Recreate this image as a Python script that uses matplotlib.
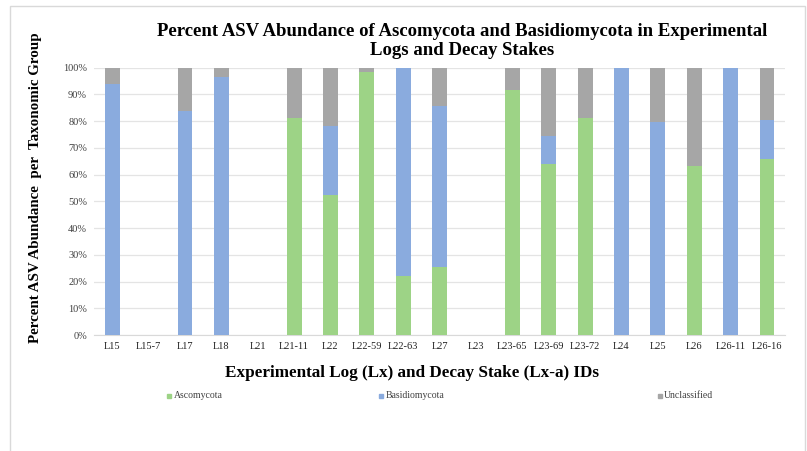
import matplotlib
matplotlib.use("Agg")
import matplotlib.pyplot as plt
import numpy as np
from matplotlib.patches import Rectangle, Patch

# Danh sách mẫu (log và decay stake)
samples = ["L15", "L15-7", "L17", "L18", "L21", "L21-11", "L22", "L22-59", "L22-63",
           "L27", "L23", "L23-65", "L23-69", "L23-72", "L24", "L25", "L26", "L26-11", "L26-16"]

# Phần trăm mỗi nhóm
ascomycota = [0, 0, 0, 0, 0, 81, 52.3, 98.4, 22.2, 25.3, 0, 91.5, 64.1, 81, 0, 0, 63.3, 0, 65.8]
basidiomycota = [93.8, 0, 83.8, 96.5, 0, 0, 25.8, 0, 77.8, 60.4, 0, 0, 10.2, 0, 100, 79.7, 0, 100, 14.8]
unclassified = [6.2, 0, 16.2, 3.5, 0, 19, 21.9, 1.6, 0, 14.3, 0, 8.5, 25.7, 19, 0, 20.3, 36.7, 0, 19.4]

c_green = "#9DD386"
c_blue = "#8AABDE"
c_gray = "#A6A6A6"

plt.rcParams['font.family'] = ['Liberation Serif', 'DejaVu Serif']

fig = plt.figure(figsize=(8.07, 4.51), dpi=100)
ax = fig.add_axes([0.1165, 0.257, 0.8565, 0.593])

x = np.arange(len(samples))
asc = np.array(ascomycota)
bas = np.array(basidiomycota)
unc = np.array(unclassified)
w = 0.41
ax.bar(x, asc, w, color=c_green, zorder=3)
ax.bar(x, bas, w, bottom=asc, color=c_blue, zorder=3)
ax.bar(x, unc, w, bottom=asc + bas, color=c_gray, zorder=3)

ax.set_xlim(-0.5, len(samples) - 0.5)
ax.set_ylim(0, 100)
ax.set_yticks(np.arange(0, 101, 10))
ax.set_yticklabels([f"{v}%" for v in range(0, 101, 10)], fontsize=7.5, color="#404040")
ax.set_xticks(x)
ax.set_xticklabels(samples, fontsize=7.5, color="#202020")
ax.tick_params(length=0, pad=5)
ax.grid(axis="y", color="#E4E4E4", linewidth=0.9, zorder=0)
for s in ["top", "right", "left"]:
    ax.spines[s].set_visible(False)
ax.spines["bottom"].set_color("#D9D9D9")

fig.text(0.573, 0.91, "Percent ASV Abundance of Ascomycota and Basidiomycota in Experimental\nLogs and Decay Stakes",
         ha="center", va="center", fontsize=13.5, fontweight="bold", linespacing=1.15)
fig.text(0.044, 0.583, "Percent ASV Abundance  per  Taxonomic Group", rotation=90,
         ha="center", va="center", fontsize=10.8, fontweight="bold")
fig.text(0.51, 0.172, "Experimental Log (Lx) and Decay Stake (Lx-a) IDs",
         ha="center", va="center", fontsize=12.3, fontweight="bold")

handles = [Patch(color=c_green), Patch(color=c_blue), Patch(color=c_gray)]
names = ["Ascomycota", "Basidiomycota", "Unclassified"]
for h, n, px in zip(handles, names, [0.207, 0.47, 0.815]):
    fig.text(px + 0.008, 0.122, n, ha="left", va="center", fontsize=7, color="#404040")
    fig.patches.append(Rectangle((px, 0.117), 0.005, 0.01, transform=fig.transFigure,
                                 color=h.get_facecolor(), figure=fig))

# Khung viền ngoài
fig.patches.append(Rectangle((10 / 807, -0.02), 795 / 807, 1.02 - 6 / 451, transform=fig.transFigure,
                             fill=False, edgecolor="#D9D9D9", linewidth=1.0, figure=fig))

fig.savefig("out.png", dpi=100)
